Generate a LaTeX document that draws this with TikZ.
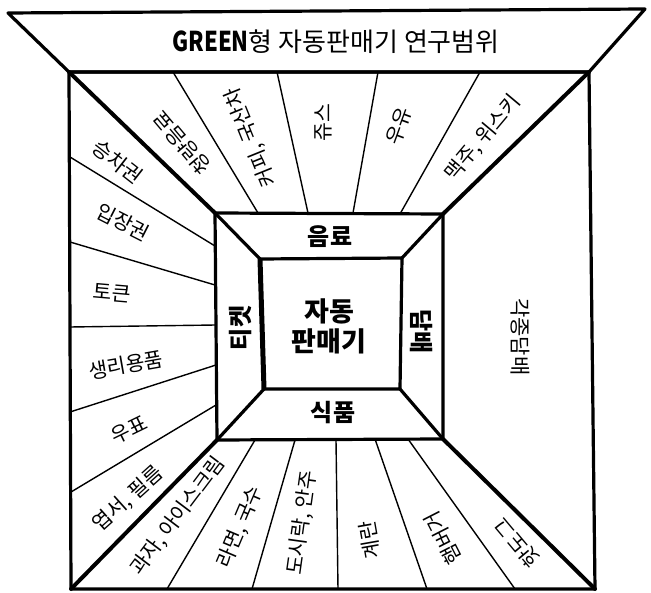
\documentclass[tikz,border=0pt]{standalone}
\usepackage{fontspec}
\usepackage{graphicx}
\setmainfont{Noto Sans CJK KR}
\begin{document}
\begin{tikzpicture}[x=1pt,y=-1pt,
  frame/.style={line width=3.2pt,line join=round},
  diag/.style={line width=4pt,line cap=round},
  ring/.style={line width=3.2pt,line join=round},
  fan/.style={line width=1.4pt},
  lbl/.style={font=\fontsize{20.5}{20.5}\selectfont, inner sep=0pt},
  cat/.style={font=\fontsize{24}{24}\selectfont\bfseries, inner sep=0pt},
  ttl/.style={font=\fontsize{26}{26}\selectfont, inner sep=0pt}]
\useasboundingbox (0,0) rectangle (651,593);
% corners
\coordinate (T1) at (8,13);
\coordinate (T2) at (645,9);
\coordinate (O1) at (69,72);
\coordinate (O2) at (589,72);
\coordinate (O3) at (595,589);
\coordinate (O4) at (71,589);
\coordinate (I1) at (215,213);
\coordinate (I2) at (443,214);
\coordinate (I3) at (443,439);
\coordinate (I4) at (217,440);
\coordinate (C1) at (260,259);
\coordinate (C2) at (402,258);
\coordinate (C3) at (400,389);
\coordinate (C4) at (264,389);
% left fan
\coordinate (la1) at (70,157); \coordinate (lb1) at (215,246);
\coordinate (la2) at (70,242); \coordinate (lb2) at (215,285);
\coordinate (la3) at (70,327); \coordinate (lb3) at (216,325);
\coordinate (la4) at (70,412); \coordinate (lb4) at (216,365);
\coordinate (la5) at (71,492); \coordinate (lb5) at (216,405);
% top fan
\coordinate (ta1) at (173,72); \coordinate (tb1) at (258,213);
\coordinate (ta2) at (277,72); \coordinate (tb2) at (308,213);
\coordinate (ta3) at (378,72); \coordinate (tb3) at (353,213);
\coordinate (ta4) at (480,72); \coordinate (tb4) at (400,214);
% bottom fan
\coordinate (ba1) at (255,440); \coordinate (bb1) at (167,589);
\coordinate (ba2) at (295,440); \coordinate (bb2) at (252,589);
\coordinate (ba3) at (336,440); \coordinate (bb3) at (338,589);
\coordinate (ba4) at (375,439); \coordinate (bb4) at (427,589);
\coordinate (ba5) at (408,439); \coordinate (bb5) at (515,589);
\foreach \i in {1,...,5} {\draw[fan] (la\i) -- (lb\i); \draw[fan] (ba\i) -- (bb\i);}
\foreach \i in {1,...,4} {\draw[fan] (ta\i) -- (tb\i);}
% frames
\draw[frame] (T1) -- (T2) -- (O2) -- (O1) -- cycle;
\draw[frame] (O1) -- (O2) -- (O3) -- (O4) -- cycle;
\draw[diag] (O1) -- (I1);
\draw[diag] (O2) -- (I2);
\draw[diag] (O3) -- (I3);
\draw[diag] (O4) -- (I4);
\draw[ring] (I1) -- (I2) -- (I3) -- (I4) -- cycle;
\draw[ring] (I1) -- (C1);
\draw[ring] (I2) -- (C2);
\draw[ring] (I3) -- (C3);
\draw[ring] (I4) -- (C4);
\draw[ring] (C1) -- (C2) -- (C3) -- (C4) -- cycle;
\draw[line width=5pt] (C1) -- (C4);
% title
\node[ttl] (title) at (336,42) {\scalebox{0.85}[1.05]{\textbf{GREEN}}형 자동판매기 연구범위};
% inner labels
\node[cat] (drink) at (330,237) {음료};
\node[cat] (food) at (333,413) {식품};
\node[cat, rotate=90] (ticket) at (241,328) {티켓};
\node[cat, rotate=-90] (tobacco) at (421,332) {담배};
\node[font=\fontsize{27}{30}\selectfont\bfseries, align=center, inner sep=0pt] (vm) at (329,326) {자동\\판매기};
\node[font=\fontsize{21}{21}\selectfont, inner sep=0pt, rotate=-90] (tob) at (520,337) {각종담배};
% left
\node[lbl, rotate=-38] (l1) at (118,162) {승차권};
\node[lbl, rotate=-27] (l2) at (123,222) {입장권};
\node[lbl, rotate=-5] (l3) at (112,293) {토큰};
\node[lbl, rotate=10] (l4) at (126,365) {생리용품};
\node[lbl, rotate=26] (l5) at (129,430) {우표};
\node[lbl, rotate=42] (l6) at (128,499) {엽서, 필름};
% top
\node[lbl, rotate=130] (t1) at (182,143) {청량음료};
\node[lbl, rotate=112] (t2) at (251,137) {커피, 국산차};
\node[lbl, rotate=90] (t3) at (323,123) {쥬스};
\node[lbl, rotate=70] (t4) at (399,126) {우유};
\node[lbl, rotate=50] (t5) at (483,138) {맥주, 위스키};
% bottom
\node[lbl, rotate=53] (b1) at (178,516) {과자, 아이스크림};
\node[lbl, rotate=67] (b2) at (240,527) {라면, 국수};
\node[lbl, rotate=82] (b3) at (302,523) {도시락, 안주};
\node[lbl, rotate=100] (b4) at (370,540) {계란};
\node[lbl, rotate=117] (b5) at (443,538) {햄버거};
\node[lbl, rotate=130] (b6) at (517,543) {핫도그};
\end{tikzpicture}
\end{document}
